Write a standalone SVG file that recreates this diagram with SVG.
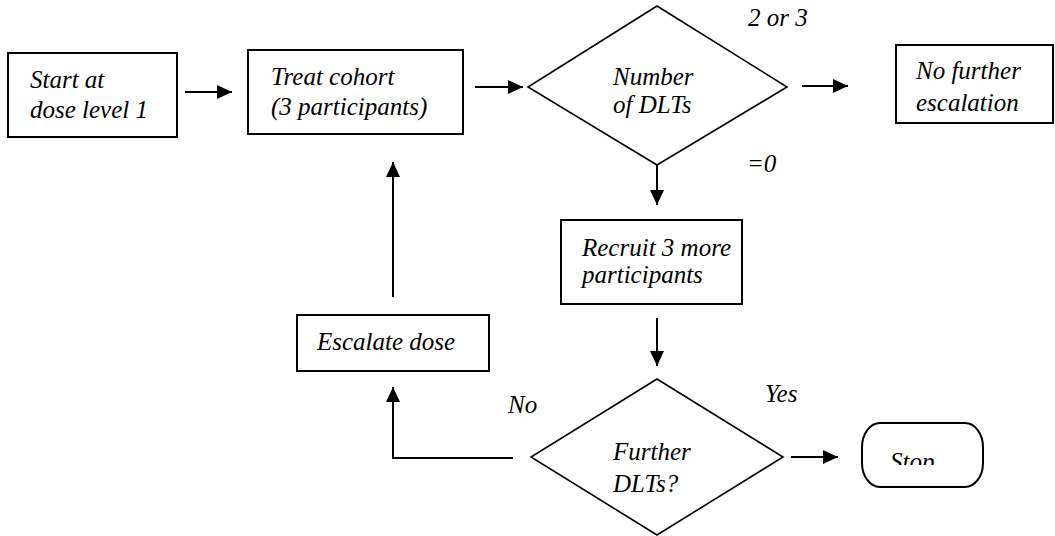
<svg xmlns="http://www.w3.org/2000/svg" width="1055" height="536" viewBox="0 0 1055 536">
<style>
.box{fill:#fff;stroke:#000;stroke-width:2}
.dia{fill:#fff;stroke:#000;stroke-width:1.6}
text{font-size:25px;fill:#000}
.c{fill:none;stroke:#000;stroke-width:2}
</style>
<defs>
<marker id="ah" markerUnits="userSpaceOnUse" markerWidth="16" markerHeight="14" refX="15" refY="7" orient="auto">
<path d="M0,0 L15,7 L0,14 z" fill="#000"/>
</marker>
<clipPath id="stopclip"><rect x="860" y="420" width="130" height="45"/></clipPath>
</defs>
<rect width="1055" height="536" fill="#fff"/>
<g id="connectors">
<line class="c" x1="185" y1="92" x2="232" y2="92" marker-end="url(#ah)"/>
<line class="c" x1="475" y1="87" x2="523" y2="87" marker-end="url(#ah)"/>
<line class="c" x1="802" y1="86" x2="848" y2="86" marker-end="url(#ah)"/>
<line class="c" x1="657" y1="165" x2="657" y2="205" marker-end="url(#ah)"/>
<line class="c" x1="657" y1="318" x2="657" y2="366" marker-end="url(#ah)"/>
<line class="c" x1="791" y1="457" x2="838" y2="457" marker-end="url(#ah)"/>
<polyline class="c" points="513,458 393,458 393,387" marker-end="url(#ah)"/>
<line class="c" x1="393" y1="297" x2="393" y2="162" marker-end="url(#ah)"/>
</g>
<g font-family="Liberation Serif" font-style="italic">
<g id="start">
<rect class="box" x="8" y="53" width="169" height="84"/>
<text x="30" y="88">Start at</text>
<text x="30" y="118">dose level 1</text>
</g>
<g id="treat">
<rect class="box" x="248" y="50" width="215" height="84"/>
<text x="271" y="85">Treat cohort</text>
<text x="271" y="115">(3 participants)</text>
</g>
<g id="dlts">
<polygon class="dia" points="657,6 787,87 657,165 528,87"/>
<text x="613" y="85">Number</text>
<text x="613" y="113">of DLTs</text>
</g>
<g id="nofurther">
<rect class="box" x="896" y="45" width="157" height="78"/>
<text x="916" y="79">No further</text>
<text x="916" y="111">escalation</text>
</g>
<g id="recruit">
<rect class="box" x="561" y="220" width="181" height="84"/>
<text x="582" y="256">Recruit 3 more</text>
<text x="582" y="283">participants</text>
</g>
<g id="escalate">
<rect class="box" x="297" y="315" width="192" height="56"/>
<text x="317" y="350">Escalate dose</text>
</g>
<g id="further">
<polygon class="dia" points="657,379 783,457 657,535 531,457"/>
<text x="613" y="460">Further</text>
<text x="613" y="492">DLTs?</text>
</g>
<g id="stop">
<rect class="box" x="862" y="423" width="121" height="64" rx="18" ry="24"/>
<text x="890" y="470" clip-path="url(#stopclip)">Stop</text>
</g>
<g id="labels">
<text x="748" y="26">2 or 3</text>
<text x="747" y="172">=0</text>
<text x="508" y="413">No</text>
<text x="765" y="402">Yes</text>
</g>
</g>
</svg>
